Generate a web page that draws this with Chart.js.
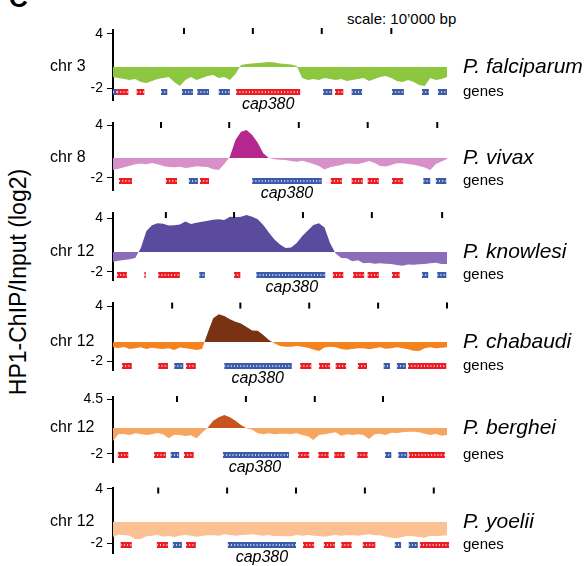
<!DOCTYPE html>
<html><head><meta charset="utf-8">
<script src="https://cdn.jsdelivr.net/npm/chart.js@4.4.1/dist/chart.umd.min.js"></script>
<style>
body{margin:0;background:#fff;width:585px;height:566px;position:relative;overflow:hidden;font-family:'Liberation Sans',Arial,sans-serif}
canvas{position:absolute;left:0}
.t{position:absolute;color:#000;white-space:nowrap;line-height:1}
</style></head><body>
<div class="t" style="left:9px;top:-15px;font-size:26px;font-weight:bold">C</div>
<div class="t" style="left:347px;top:11px;font-size:15px">scale: 10’000 bp</div>
<div class="t" style="left:-132px;top:269px;width:300px;height:26px;line-height:26px;text-align:center;font-size:23px;transform:rotate(-90deg)">HP1-ChIP/Input (log2)</div>
<script>
// genomic step between signal samples (kb)
const kbStep = 0.8;

// HP1 ChIP/Input signal (log2, axis units), one value per kbStep
const falciparumSignal = [-0.78,-0.89,-1.0,-1.11,-1.0,-1.33,-1.44,-1.22,-1.0,-0.89,
 -0.78,-1.33,-1.78,-1.11,-0.78,-1.11,-0.89,-0.67,-0.56,-0.89,
 -0.78,-1.11,-0.44,0.56,0.67,0.72,0.78,0.83,0.89,0.83,
 0.72,0.67,0.61,0.44,-0.89,-1.11,-1.0,-1.11,-0.89,-1.0,
 -1.11,-1.0,-1.22,-1.11,-1.0,-0.89,-1.22,-1.0,-0.78,-0.67,
 -0.89,-1.22,-1.33,-1.11,-1.33,-1.67,-1.78,-0.89,-1.11,-1.0,-0.78];
const vivaxSignal = [-1.10,-0.95,-0.79,-0.61,-0.45,-0.36,-0.45,-0.30,-0.45,-0.64,
 -0.76,-0.79,-0.72,-0.87,-0.79,-0.68,-0.72,-0.76,-1.02,-1.10,
 -0.42,0.41,2.30,3.24,3.43,2.87,2.0,0.8,0.26,0.11,
 0.07,0.04,-0.08,-0.16,-0.04,-0.23,-0.42,-0.64,-1.04,-0.79,
 -0.64,-0.53,-0.36,-0.38,-0.42,-0.27,-0.08,-0.30,-0.64,-0.70,
 -0.53,-0.34,-0.34,-0.42,-0.50,-0.64,-0.81,-1.10,-0.42,-0.13,0.15];
const knowlesiSignal = [-0.86,-0.74,-0.67,-0.59,-0.44,0.67,2.56,3.19,3.41,3.37,
 3.17,3.19,3.28,3.61,3.33,3.48,3.59,3.70,3.81,3.86,
 3.78,4.14,4.08,4.14,4.33,4.14,3.86,3.22,2.39,1.61,
 1.06,0.67,0.72,1.22,2.0,2.61,3.22,3.41,2.94,1.19,
 0.06,-0.44,-0.48,-0.81,-0.70,-1.03,-0.97,-1.08,-1.03,-1.08,
 -1.11,-1.22,-1.30,-1.17,-1.19,-1.14,-1.11,-1.03,-0.97,-1.11,-1.11];
const chabaudiSignal = [-0.50,-0.58,-0.47,-0.69,-0.61,-0.50,-0.69,-0.55,-0.63,-0.69,
 -0.61,-0.80,-0.53,-0.61,-0.69,-0.80,-0.69,1.06,2.66,3.09,
 2.91,2.55,2.29,2.09,1.71,1.33,1.31,0.84,0.29,-0.07,
 -0.36,-0.44,-0.44,-0.36,-0.44,-0.55,-0.74,-0.91,-0.53,-0.44,
 -0.50,-0.69,-0.77,-0.69,-0.61,-0.61,-0.72,-0.61,-0.50,-0.66,
 -0.61,-0.50,-0.61,-0.72,-0.87,-0.91,-0.61,-0.50,-0.61,-0.55,-0.50];
const bergheiSignal = [-0.46,0.36,0.36,0.24,0.44,0.36,0.24,0.33,0.48,0.33,
 -0.15,0.28,0.24,0.13,0.21,-0.15,0.52,1.11,1.93,2.34,
 2.61,2.34,1.93,1.43,1.04,0.87,0.44,0.33,0.44,0.33,
 0.40,0.40,0.36,0.44,0.24,0.09,-0.35,0.24,0.33,0.44,
 0.56,0.16,0.33,0.24,0.33,0.24,-0.23,0.33,0.40,0.24,
 0.52,0.48,0.56,0.63,0.63,0.56,0.40,0.24,0.40,0.16,0.24];
const yoeliiSignal = [-1.30,-1.07,-1.11,-1.19,-1.59,-1.56,-1.26,-1.19,-1.11,-1.30,
 -1.19,-1.33,-1.19,-1.11,-1.19,-1.30,-1.22,-1.15,-1.15,-1.19,
 -1.04,-1.11,-1.19,-1.11,-1.07,-1.04,-1.11,-1.19,-1.11,-1.26,
 -1.22,-1.26,-1.26,-1.11,-1.19,-1.11,-1.19,-1.22,-1.30,-1.19,
 -1.11,-1.19,-1.15,-1.15,-1.19,-1.11,-1.04,-1.15,-1.15,-1.30,
 -1.41,-1.48,-1.33,-1.19,-1.26,-1.33,-1.41,-1.19,-1.26,-1.19,-1.15];

// genes [start kb, end kb]; plus strand (blue) and minus strand (red)
const falciparumGenesPlus = [[0,0.6],[6.9,7.8],[9.9,11.5],[12.1,13.8],[15.2,16.8],[30.2,31.5],[34.3,35.8],[40.1,41.8],[44.4,45.4],[46.7,48.0]];
const falciparumGenesMinus = [[0.6,2.2],[3.4,4.5],[17.7,26.9],[31.9,33.1]];
const vivaxGenesPlus = [[10.9,12.2],[20.0,30.0],[44.6,45.6],[46.4,47.9]];
const vivaxGenesMinus = [[0.86,2.73],[7.6,9.2],[12.5,13.8],[31.3,32.9],[34.3,35.9],[36.6,38.2],[40.1,41.7]];
const knowlesiGenesPlus = [[12.4,13.2],[20.6,30.5],[44.4,45.3],[46.6,47.9]];
const knowlesiGenesMinus = [[0.57,2.0],[4.5,4.7],[6.5,9.6],[17.4,18.3],[31.6,33.1],[34.5,36.1],[36.6,38.2],[40.1,41.2]];
const chabaudiGenesPlus = [[8.8,10.1],[16.0,25.7],[38.9,39.8],[40.8,42.1]];
const chabaudiGenesMinus = [[1.3,2.7],[6.5,7.9],[10.5,11.9],[26.9,28.5],[29.6,31.2],[32.0,33.5],[35.2,36.5],[42.4,47.9]];
const bergheiGenesPlus = [[8.3,9.5],[15.8,25.3],[39.1,40.0],[41.0,42.3]];
const bergheiGenesMinus = [[0.7,2.2],[5.9,7.6],[10.2,11.6],[26.6,28.2],[29.5,31.0],[31.8,33.3],[35.1,36.6],[42.5,47.7]];
const yoeliiGenesPlus = [[8.6,9.9],[16.5,26.3],[40.5,41.4],[42.5,43.8]];
const yoeliiGenesMinus = [[1.1,2.7],[6.3,7.9],[10.5,11.9],[27.3,28.9],[30.3,31.9],[32.8,34.3],[35.9,37.7],[44.1,48.3]];

// 10 kb scale marks (kb)
const falciparumMarks = [10.2,20.1,30.0,40.0];
const vivaxMarks = [6.9,16.7,26.7,36.6,46.6];
const knowlesiMarks = [7.6,17.4,27.3,37.2,47.3];
const chabaudiMarks = [8.5,18.3,28.2,38.1,48.0];
const bergheiMarks = [9.2,19.1,29.0,38.8];
const yoeliiMarks = [6.5,16.4,26.3,36.2,46.1];

// y tick labels per panel
const yTickLabels = [[-2,4],[-2,4],[-2,4],[-2,4],[-2,4.5],[-2,4]];
const chromosomes = ['chr 3','chr 8','chr 12','chr 12','chr 12','chr 12'];
const speciesNames = ['P. falciparum','P. vivax','P. knowlesi','P. chabaudi','P. berghei','P. yoelii'];
const geneName = 'cap380';

// layout & style per panel
const panels = [
 {signal:falciparumSignal, plus:falciparumGenesPlus, minus:falciparumGenesMinus, marks:falciparumMarks,
  area:[30,100], yRange:[-3.33,4.44], baseline:0.33, geneY:-2.44, markY:4.33, labelKb:22.3, up:'#8dc63f', down:'#8dc63f'},
 {signal:vivaxSignal, plus:vivaxGenesPlus, minus:vivaxGenesMinus, marks:vivaxMarks,
  area:[123,190], yRange:[-3.36,4.23], baseline:0.26, geneY:-2.34, markY:4.0, labelKb:25.0, up:'#b5268f', down:'#d790c9'},
 {signal:knowlesiSignal, plus:knowlesiGenesPlus, minus:knowlesiGenesMinus, marks:knowlesiMarks,
  area:[213,280], yRange:[-2.89,4.56], baseline:0.22, geneY:-2.33, markY:4.33, labelKb:25.7, up:'#5b4b9e', down:'#8c6dba'},
 {signal:chabaudiSignal, plus:chabaudiGenesPlus, minus:chabaudiGenesMinus, marks:chabaudiMarks,
  area:[303,370], yRange:[-2.98,4.33], baseline:0.07, geneY:-2.54, markY:4.05, labelKb:20.8, up:'#7a3312', down:'#f4831f'},
 {signal:bergheiSignal, plus:bergheiGenesPlus, minus:bergheiGenesMinus, marks:bergheiMarks,
  area:[397,462], yRange:[-2.95,4.74], baseline:1.07, geneY:-2.12, markY:4.5, labelKb:20.4, up:'#c8531f', down:'#f7a661'},
 {signal:yoeliiSignal, plus:yoeliiGenesPlus, minus:yoeliiGenesMinus, marks:yoeliiMarks,
  area:[488,553], yRange:[-3.11,4.11], baseline:0.33, geneY:-2.22, markY:3.83, labelKb:21.4, up:'#fbc192', down:'#fbc192'}
];

const FONT = "'Liberation Sans', Arial, sans-serif";
Chart.defaults.font.family = FONT;
const RED = '#ec1c24', BLUE = '#3b5aa9';
const PAD = 30, LEFT = 113, RIGHT = 447, W = 585;

function geneData(list, y){
  const out = [];
  list.forEach(([a,b]) => { out.push({x:a,y:y},{x:b,y:y},{x:b,y:null}); });
  return out;
}

panels.forEach((p, idx) => {
  const cv = document.createElement('canvas');
  const h = p.area[1] - p.area[0] + 2*PAD;
  cv.width = W; cv.height = h;
  cv.style.width = W+'px'; cv.style.height = h+'px';
  cv.style.top = (p.area[0]-PAD)+'px';
  document.body.appendChild(cv);

  const geneDs = (list, color) => ({type:'line', data:geneData(list,p.geneY), borderColor:color, borderWidth:6,
    borderCapStyle:'butt', pointRadius:0, fill:false, spanGaps:false, clip:false, order:2});
  const chevDs = (list) => ({type:'line', data:geneData(list,p.geneY), borderColor:'rgba(255,255,255,0.75)', borderWidth:2,
    borderDash:[1,2.2], borderCapStyle:'butt', pointRadius:0, fill:false, spanGaps:false, clip:false, order:1});

  const labelPlugin = {
    id:'panelLabels'+idx,
    afterDraw(chart){
      const ctx = chart.ctx, ys = chart.scales.y, xs = chart.scales.x;
      const by = ys.getPixelForValue(p.baseline), gy = ys.getPixelForValue(p.geneY);
      ctx.save();
      ctx.fillStyle = '#000';
      ctx.textBaseline = 'middle';
      ctx.textAlign = 'left';
      ctx.font = '16px '+FONT;
      ctx.fillText(chromosomes[idx], 50, by);
      ctx.font = 'italic 21px '+FONT;
      ctx.fillText(speciesNames[idx], 463, by);
      ctx.font = '15px '+FONT;
      ctx.fillText('genes', 463, gy);
      ctx.textAlign = 'center';
      ctx.font = 'italic 16px '+FONT;
      ctx.fillText(geneName, xs.getPixelForValue(p.labelKb), gy + 13);
      ctx.restore();
    }
  };

  new Chart(cv, {
    type:'line',
    data:{datasets:[
      {data:p.signal.map((v,i)=>({x:i*kbStep, y:v})), borderWidth:0, pointRadius:0, tension:0,
       fill:{target:{value:p.baseline}, above:p.up, below:p.down}, order:5},
      geneDs(p.minus, RED), geneDs(p.plus, BLUE), chevDs(p.minus), chevDs(p.plus),
      {data:p.marks.map(x=>({x:x, y:p.markY})), showLine:false, pointStyle:'line', pointRadius:3, pointRotation:90,
       pointBorderColor:'#000', pointBorderWidth:2, clip:false, order:0}
    ]},
    options:{
      responsive:false, animation:false, events:[], devicePixelRatio:1,
      layout:{padding:{top:PAD, bottom:PAD, left:0, right:W-RIGHT}},
      plugins:{legend:{display:false}, tooltip:{enabled:false}},
      scales:{
        x:{type:'linear', min:0, max:48, display:false},
        y:{type:'linear', min:p.yRange[0], max:p.yRange[1],
           afterBuildTicks:(s)=>{ s.ticks = yTickLabels[idx].map(v=>({value:v})); },
           afterFit:(s)=>{ s.width = LEFT; },
           ticks:{color:'#000', font:{size:14, family:FONT}, padding:4, autoSkip:false},
           grid:{drawOnChartArea:false, drawTicks:true, tickLength:6, tickColor:'#000', tickWidth:1},
           border:{display:true, color:'#000', width:2}}
      }
    },
    plugins:[labelPlugin]
  });
});
</script>
</body></html>
